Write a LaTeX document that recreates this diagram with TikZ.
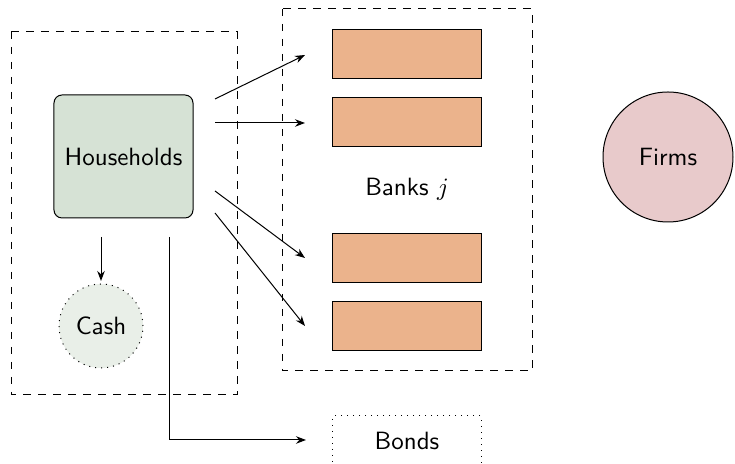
\documentclass[tikz,border=0pt]{standalone}
\usetikzlibrary{arrows.meta}
\definecolor{hhfill}{HTML}{D6E2D5}
\definecolor{cashfill}{HTML}{E9EFE8}
\definecolor{bankfill}{HTML}{EBB38C}
\definecolor{firmfill}{HTML}{E8CACB}
\begin{document}
\begin{tikzpicture}[x=0.4pt,y=-0.4pt,
  font=\sffamily,
  every node/.style={inner sep=0pt, outer sep=0pt},
  conn/.style={-{Stealth[length=4pt,width=3pt]}, line width=0.4pt},
  groupbox/.style={draw, dashed, line width=0.4pt},
  hhbox/.style={draw, rounded corners=3.2pt, fill=hhfill, minimum width=55.6pt, minimum height=49.2pt, line width=0.4pt},
  bankbox/.style={draw, fill=bankfill, minimum width=59.2pt, minimum height=19.6pt, line width=0.4pt},
  bondbox/.style={draw, dotted, minimum width=59.2pt, minimum height=19.6pt, line width=0.4pt},
  cashnode/.style={draw, dotted, circle, fill=cashfill, minimum size=33.6pt, line width=0.4pt},
  firmnode/.style={draw, circle, fill=firmfill, minimum size=52pt, line width=0.4pt}]
\useasboundingbox (0,0) rectangle (735,464);
% group boxes
\draw[groupbox] (11,32) rectangle (237,395);
\draw[groupbox] (282,9) rectangle (532,371);
% nodes
\node[hhbox] (hh) at (123.5,156.5) {Households};
\node[cashnode] (cash) at (101,326) {Cash};
\node[bankbox] (b1) at (407,54.5) {};
\node[bankbox] (b2) at (407,122.5) {};
\node[bankbox] (b3) at (407,258.5) {};
\node[bankbox] (b4) at (407,326.5) {};
\node (banks) at (407,189) {Banks $j$};
\node[bondbox] (bonds) at (407,440.5) {Bonds};
\node[firmnode] (firms) at (668,157) {Firms};
% connector end points
\coordinate (s1) at (215,99);
\coordinate (s2) at (215,123);
\coordinate (s3) at (215,191);
\coordinate (s4) at (215,213);
\coordinate (e1) at (305,55);
\coordinate (e2) at (305,123);
\coordinate (e3) at (305,258);
\coordinate (e4) at (305,326);
\coordinate (sc) at (101,237);
\coordinate (ec) at (101,281);
\coordinate (sb) at (169,237);
\coordinate (eb) at (306,440);
% connectors
\draw[conn] (s1) -- (e1);
\draw[conn] (s2) -- (e2);
\draw[conn] (s3) -- (e3);
\draw[conn] (s4) -- (e4);
\draw[conn] (sc) -- (ec);
\draw[conn] (sb) |- (eb);
\end{tikzpicture}
\end{document}
